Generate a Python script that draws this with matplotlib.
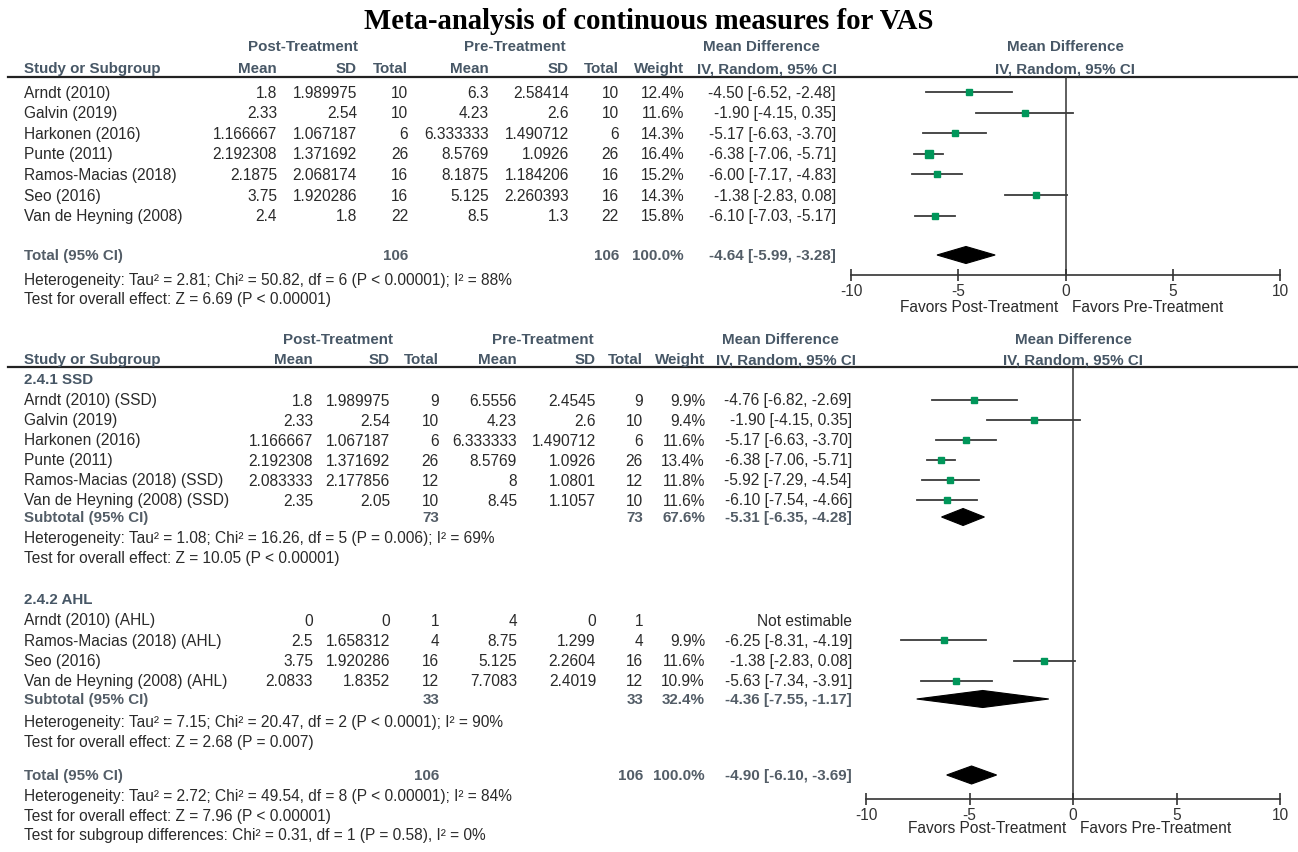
import matplotlib.pyplot as plt
from matplotlib.patches import Polygon

plt.rcParams['font.family'] = ['Liberation Sans', 'DejaVu Sans']
plt.rcParams['axes.unicode_minus'] = False

W, H = 1298, 853
TXT = '#2a2a2a'
HEAD = '#475766'
BOLDC = '#535d67'
GREEN = '#00965a'
LINE = '#333333'
FS = 11.2
FSB = 10.9

# ---- all studies ----
names1 = ["Arndt (2010)", "Galvin (2019)", "Harkonen (2016)", "Punte (2011)",
          "Ramos-Macias (2018)", "Seo (2016)", "Van de Heyning (2008)"]
post_mean1 = [1.8, 2.33, 1.166667, 2.192308, 2.1875, 3.75, 2.4]
post_sd1 = [1.989975, 2.54, 1.067187, 1.371692, 2.068174, 1.920286, 1.8]
post_n1 = [10, 10, 6, 26, 16, 16, 22]
pre_mean1 = [6.3, 4.23, 6.333333, 8.5769, 8.1875, 5.125, 8.5]
pre_sd1 = [2.58414, 2.6, 1.490712, 1.0926, 1.184206, 2.260393, 1.3]
pre_n1 = [10, 10, 6, 26, 16, 16, 22]
weight1 = [12.4, 11.6, 14.3, 16.4, 15.2, 14.3, 15.8]
md1 = [-4.50, -1.90, -5.17, -6.38, -6.00, -1.38, -6.10]
lo1 = [-6.52, -4.15, -6.63, -7.06, -7.17, -2.83, -7.03]
hi1 = [-2.48, 0.35, -3.70, -5.71, -4.83, 0.08, -5.17]
total1 = (106, 106, 100.0, -4.64, -5.99, -3.28)
het1 = ["Heterogeneity: Tau² = 2.81; Chi² = 50.82, df = 6 (P < 0.00001); I² = 88%",
        "Test for overall effect: Z = 6.69 (P < 0.00001)"]

# ---- subgroup 2.4.1 SSD ----
names_ssd = ["Arndt (2010) (SSD)", "Galvin (2019)", "Harkonen (2016)", "Punte (2011)",
             "Ramos-Macias (2018) (SSD)", "Van de Heyning (2008) (SSD)"]
post_mean_ssd = [1.8, 2.33, 1.166667, 2.192308, 2.083333, 2.35]
post_sd_ssd = [1.989975, 2.54, 1.067187, 1.371692, 2.177856, 2.05]
post_n_ssd = [9, 10, 6, 26, 12, 10]
pre_mean_ssd = [6.5556, 4.23, 6.333333, 8.5769, 8, 8.45]
pre_sd_ssd = [2.4545, 2.6, 1.490712, 1.0926, 1.0801, 1.1057]
pre_n_ssd = [9, 10, 6, 26, 12, 10]
weight_ssd = [9.9, 9.4, 11.6, 13.4, 11.8, 11.6]
md_ssd = [-4.76, -1.90, -5.17, -6.38, -5.92, -6.10]
lo_ssd = [-6.82, -4.15, -6.63, -7.06, -7.29, -7.54]
hi_ssd = [-2.69, 0.35, -3.70, -5.71, -4.54, -4.66]
sub_ssd = (73, 73, 67.6, -5.31, -6.35, -4.28)
het_ssd = ["Heterogeneity: Tau² = 1.08; Chi² = 16.26, df = 5 (P = 0.006); I² = 69%",
           "Test for overall effect: Z = 10.05 (P < 0.00001)"]

# ---- subgroup 2.4.2 AHL ----
names_ahl = ["Arndt (2010) (AHL)", "Ramos-Macias (2018) (AHL)", "Seo (2016)",
             "Van de Heyning (2008) (AHL)"]
post_mean_ahl = [0, 2.5, 3.75, 2.0833]
post_sd_ahl = [0, 1.658312, 1.920286, 1.8352]
post_n_ahl = [1, 4, 16, 12]
pre_mean_ahl = [4, 8.75, 5.125, 7.7083]
pre_sd_ahl = [0, 1.299, 2.2604, 2.4019]
pre_n_ahl = [1, 4, 16, 12]
weight_ahl = [None, 9.9, 11.6, 10.9]
md_ahl = [None, -6.25, -1.38, -5.63]
lo_ahl = [None, -8.31, -2.83, -7.34]
hi_ahl = [None, -4.19, 0.08, -3.91]
sub_ahl = (33, 33, 32.4, -4.36, -7.55, -1.17)
het_ahl = ["Heterogeneity: Tau² = 7.15; Chi² = 20.47, df = 2 (P < 0.0001); I² = 90%",
           "Test for overall effect: Z = 2.68 (P = 0.007)"]

total2 = (106, 106, 100.0, -4.90, -6.10, -3.69)
het2 = ["Heterogeneity: Tau² = 2.72; Chi² = 49.54, df = 8 (P < 0.00001); I² = 84%",
        "Test for overall effect: Z = 7.96 (P < 0.00001)",
        "Test for subgroup differences: Chi² = 0.31, df = 1 (P = 0.58), I² = 0%"]

# column positions (pixels) for the two tables
cols1 = dict(pm=277, psd=357, pn=408, qm=489, qsd=569, qn=619, w=684, ci=836,
             post=303, pre=515, md=761, iv=767, plot=1065)
cols2 = dict(pm=313, psd=390, pn=439, qm=517, qsd=596, qn=643, w=705, ci=852,
             post=338, pre=543, md=780, iv=786, plot=1073)

fig = plt.figure(figsize=(W / 100, H / 100), dpi=100)
page = fig.add_axes([0, 0, 1, 1])
page.set_xlim(0, W)
page.set_ylim(H, 0)
page.axis('off')


def txt(x, y, s, ha='right', bold=False, color=TXT, size=None):
    if size is None:
        size = FSB if bold else FS
    return page.text(x, y, s, ha=ha, va='center', fontsize=size,
                     fontweight='bold' if bold else 'normal', color=color)


def header(y1, y2, yline, c):
    txt(c['post'], y1, 'Post-Treatment', ha='center', bold=True, color=HEAD)
    txt(c['pre'], y1, 'Pre-Treatment', ha='center', bold=True, color=HEAD)
    txt(c['md'], y1, 'Mean Difference', ha='center', bold=True, color=HEAD)
    txt(c['plot'], y1, 'Mean Difference', ha='center', bold=True, color=HEAD)
    txt(24, y2, 'Study or Subgroup', ha='left', bold=True, color=HEAD)
    for key, lab in [('pm', 'Mean'), ('psd', 'SD'), ('pn', 'Total'),
                     ('qm', 'Mean'), ('qsd', 'SD'), ('qn', 'Total'), ('w', 'Weight')]:
        txt(c[key], y2, lab, bold=True, color=HEAD)
    txt(c['iv'], y2, 'IV, Random, 95% CI', ha='center', bold=True, color=HEAD)
    txt(c['plot'], y2, 'IV, Random, 95% CI', ha='center', bold=True, color=HEAD)
    page.plot([8, W], [yline, yline], color='#222222', lw=1.6)


def forest(x0, x1, ytop, ybot, fav_dy):
    ax = fig.add_axes([x0 / W, 1 - ybot / H, (x1 - x0) / W, (ybot - ytop) / H])
    ax.set_xlim(-10, 10)
    ax.set_ylim(ybot, ytop)
    ax.patch.set_alpha(0)
    for s in ['left', 'right', 'top']:
        ax.spines[s].set_visible(False)
    ax.spines['bottom'].set_color(LINE)
    ax.spines['bottom'].set_linewidth(1.2)
    ax.set_yticks([])
    ax.set_xticks([-10, -5, 0, 5, 10])
    ax.tick_params(axis='x', direction='inout', length=9, width=1.2,
                   colors=LINE, labelsize=FS, pad=1.5)
    ax.axvline(0, color=LINE, lw=1.1)
    ax.annotate('Favors Post-Treatment', xy=(0, 0), xycoords=('data', 'axes fraction'),
                xytext=(-7, -fav_dy), textcoords='offset pixels', ha='right',
                va='center', fontsize=FS, color=TXT, annotation_clip=False)
    ax.annotate('Favors Pre-Treatment', xy=(0, 0), xycoords=('data', 'axes fraction'),
                xytext=(7, -fav_dy), textcoords='offset pixels', ha='left',
                va='center', fontsize=FS, color=TXT, annotation_clip=False)
    return ax


def study_rows(ax, ys, c, names, pm, psd, pn, qm, qsd, qn, wt, md, lo, hi):
    for i, y in enumerate(ys):
        txt(24, y, names[i], ha='left')
        for key, v in zip(['pm', 'psd', 'pn', 'qm', 'qsd', 'qn'],
                          [pm[i], psd[i], pn[i], qm[i], qsd[i], qn[i]]):
            txt(c[key], y, str(v))
        if wt[i] is None:
            txt(c['ci'], y, 'Not estimable')
            continue
        txt(c['w'], y, f'{wt[i]:.1f}%')
        txt(c['ci'], y, f'{md[i]:.2f} [{lo[i]:.2f}, {hi[i]:.2f}]')
        ax.plot([lo[i], hi[i]], [y, y], color='#3a3a3a', lw=1.3, clip_on=False)
        side = 1.75 * wt[i] ** 0.5
        ax.plot(md[i], y, marker='s', ms=side * 0.72, color=GREEN, mec=GREEN,
                clip_on=False)


def pooled_row(ax, y, c, label, vals, h=8.5):
    n_post, n_pre, w, md, lo, hi = vals
    txt(24, y, label, ha='left', bold=True, color=BOLDC)
    txt(c['pn'], y, str(n_post), bold=True, color=BOLDC)
    txt(c['qn'], y, str(n_pre), bold=True, color=BOLDC)
    txt(c['w'], y, f'{w:.1f}%', bold=True, color=BOLDC)
    txt(c['ci'], y, f'{md:.2f} [{lo:.2f}, {hi:.2f}]', bold=True, color=BOLDC)
    ax.add_patch(Polygon([(lo, y), (md, y - h), (hi, y), (md, y + h)], closed=True,
                         fc='black', ec='black', lw=0.8, clip_on=False))


# title
title = txt(W / 2, 21, 'Meta-analysis of continuous measures for VAS', ha='center',
            bold=True, color='black', size=20.7)
title.set_fontfamily(['Liberation Serif', 'DejaVu Serif'])

# ---------- upper analysis ----------
header(47, 69, 78, cols1)
ax1 = forest(851, 1280, 78, 276, 32)
ys1 = [93 + 20.6 * i for i in range(len(names1))]
study_rows(ax1, ys1, cols1, names1, post_mean1, post_sd1, post_n1,
           pre_mean1, pre_sd1, pre_n1, weight1, md1, lo1, hi1)
pooled_row(ax1, 256, cols1, 'Total (95% CI)', total1)
txt(24, 280, het1[0], ha='left')
txt(24, 299, het1[1], ha='left')

# ---------- lower analysis with subgroups ----------
header(340, 360, 368, cols2)
ax2 = forest(866, 1280, 368, 800, 29)

txt(24, 380, '2.4.1 SSD', ha='left', bold=True, color=HEAD)
ys_ssd = [401 + 20 * i for i in range(len(names_ssd))]
study_rows(ax2, ys_ssd, cols2, names_ssd, post_mean_ssd, post_sd_ssd, post_n_ssd,
           pre_mean_ssd, pre_sd_ssd, pre_n_ssd, weight_ssd, md_ssd, lo_ssd, hi_ssd)
pooled_row(ax2, 518, cols2, 'Subtotal (95% CI)', sub_ssd)
txt(24, 539, het_ssd[0], ha='left')
txt(24, 558, het_ssd[1], ha='left')

txt(24, 600, '2.4.2 AHL', ha='left', bold=True, color=HEAD)
ys_ahl = [621 + 20.3 * i for i in range(len(names_ahl))]
study_rows(ax2, ys_ahl, cols2, names_ahl, post_mean_ahl, post_sd_ahl, post_n_ahl,
           pre_mean_ahl, pre_sd_ahl, pre_n_ahl, weight_ahl, md_ahl, lo_ahl, hi_ahl)
pooled_row(ax2, 700, cols2, 'Subtotal (95% CI)', sub_ahl)
txt(24, 722, het_ahl[0], ha='left')
txt(24, 742, het_ahl[1], ha='left')

pooled_row(ax2, 776, cols2, 'Total (95% CI)', total2, h=9)
for i, line in enumerate(het2):
    txt(24, 797 + 19.5 * i, line, ha='left')

fig.savefig('out.png', dpi=100, facecolor='white')
